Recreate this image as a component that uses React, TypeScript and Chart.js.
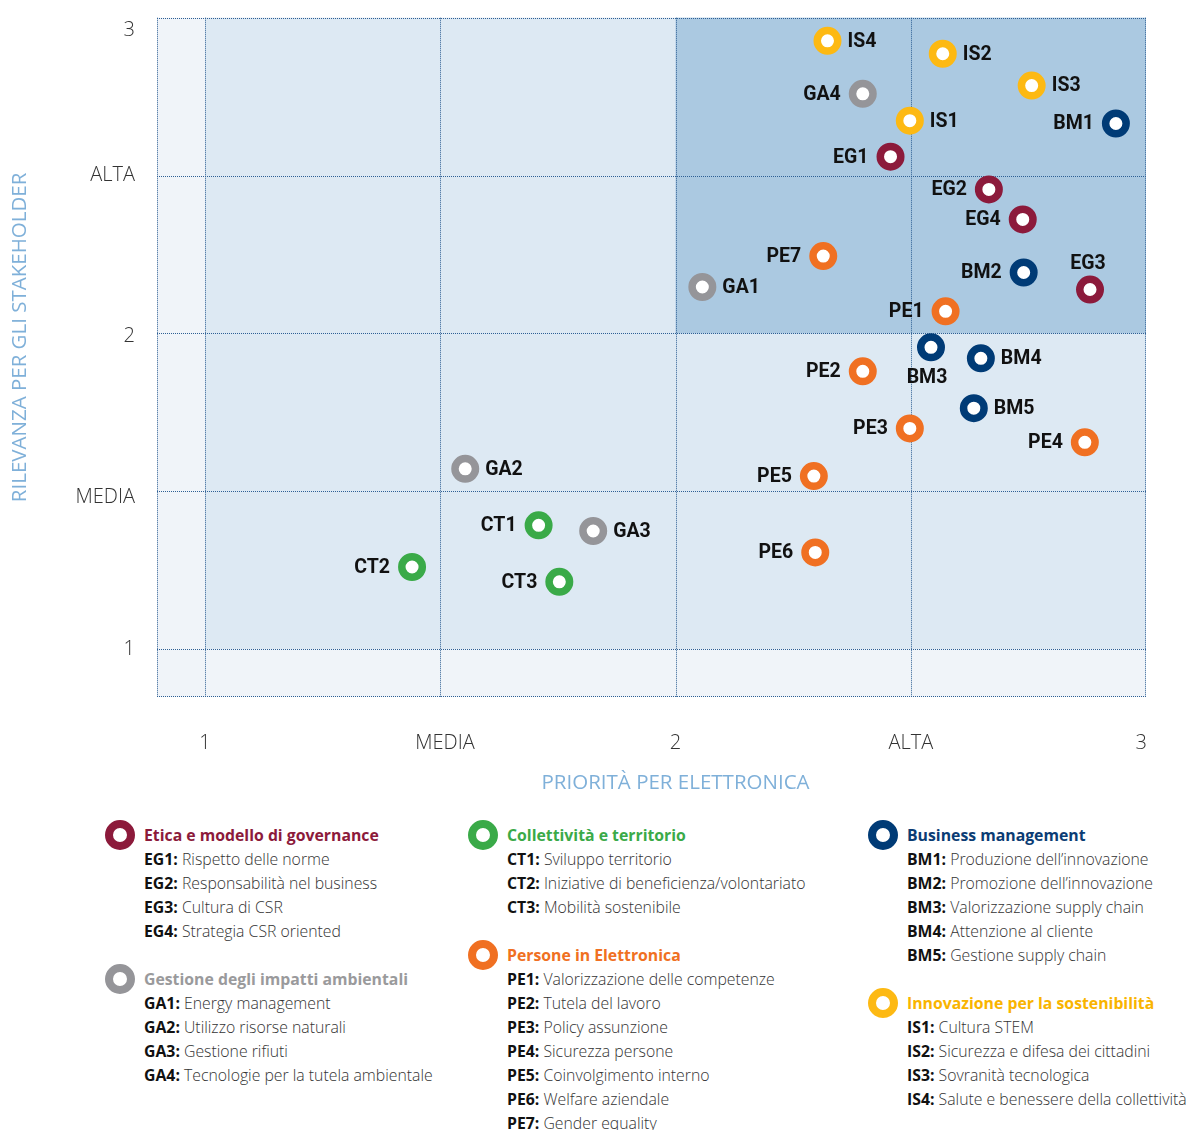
import React, { useEffect, useRef } from 'react';
import { Chart, registerables } from 'chart.js';

Chart.register(...registerables);

// ---- Axis ticks ----
const xTickValues = [1, 1.51, 2, 2.5, 2.99];
const xTickLabels = ['1', 'MEDIA', '2', 'ALTA', '3'];
const yTickValues = [1, 1.48, 1.99, 2.5, 2.96];
const yTickLabels = ['1', 'MEDIA', '2', 'ALTA', '3'];
const gridValues = [1, 1.5, 2, 2.5, 3];
const xTitle = 'PRIORITÀ PER ELETTRONICA';
const yTitle = 'RILEVANZA PER GLI STAKEHOLDER';

// ---- Series data ----
const egCodes = ['EG1', 'EG2', 'EG3', 'EG4'];
const egX = [2.457, 2.666, 2.881, 2.738];
const egY = [2.56, 2.456, 2.139, 2.361];
const egDesc = ['Rispetto delle norme', 'Responsabilità nel business', 'Cultura di CSR', 'Strategia CSR oriented'];

const gaCodes = ['GA1', 'GA2', 'GA3', 'GA4'];
const gaX = [2.057, 1.553, 1.825, 2.398];
const gaY = [2.147, 1.571, 1.374, 2.759];
const gaDesc = ['Energy management', 'Utilizzo risorse naturali', 'Gestione rifiuti', 'Tecnologie per la tutela ambientale'];

const ctCodes = ['CT1', 'CT2', 'CT3'];
const ctX = [1.709, 1.44, 1.753];
const ctY = [1.392, 1.26, 1.213];
const ctDesc = ['Sviluppo territorio', 'Iniziative di beneficienza/volontariato', 'Mobilità sostenibile'];

const peCodes = ['PE1', 'PE2', 'PE3', 'PE4', 'PE5', 'PE6', 'PE7'];
const peX = [2.574, 2.398, 2.498, 2.87, 2.294, 2.297, 2.314];
const peY = [2.07, 1.88, 1.699, 1.655, 1.548, 1.306, 2.245];
const peDesc = ['Valorizzazione delle competenze', 'Tutela del lavoro', 'Policy assunzione', 'Sicurezza persone', 'Coinvolgimento interno', 'Welfare aziendale', 'Gender equality'];

const bmCodes = ['BM1', 'BM2', 'BM3', 'BM4', 'BM5'];
const bmX = [2.936, 2.74, 2.543, 2.649, 2.634];
const bmY = [2.665, 2.193, 1.956, 1.921, 1.763];
const bmDesc = ['Produzione dell’innovazione', 'Promozione dell’innovazione', 'Valorizzazione supply chain', 'Attenzione al cliente', 'Gestione supply chain'];

const isCodes = ['IS1', 'IS2', 'IS3', 'IS4'];
const isX = [2.498, 2.568, 2.757, 2.323];
const isY = [2.674, 2.886, 2.785, 2.927];
const isDesc = ['Cultura STEM', 'Sicurezza e difesa dei cittadini', 'Sovranità tecnologica', 'Salute e benessere della collettività'];

// label placement around each point
const labelSide: Record<string, string> = {
  IS4: 'right', IS2: 'right', IS3: 'right', IS1: 'right',
  GA4: 'left', GA1: 'right', GA2: 'right', GA3: 'right',
  BM1: 'left', BM2: 'left', BM3: 'below', BM4: 'right', BM5: 'right',
  EG1: 'left', EG2: 'left', EG3: 'above', EG4: 'left',
  PE1: 'left', PE2: 'left', PE3: 'left', PE4: 'left', PE5: 'left', PE6: 'left', PE7: 'left',
  CT1: 'left', CT2: 'left', CT3: 'left',
};

const categories = [
  { name: 'Etica e modello di governance', color: '#8c1a3b', text: '#8c1a3b', codes: egCodes, x: egX, y: egY, desc: egDesc },
  { name: 'Gestione degli impatti ambientali', color: '#959599', text: '#9a9a9c', codes: gaCodes, x: gaX, y: gaY, desc: gaDesc },
  { name: 'Collettività e territorio', color: '#3aaa48', text: '#3aaa48', codes: ctCodes, x: ctX, y: ctY, desc: ctDesc },
  { name: 'Persone in Elettronica', color: '#f07022', text: '#f07022', codes: peCodes, x: peX, y: peY, desc: peDesc },
  { name: 'Business management', color: '#003b76', text: '#0b3c74', codes: bmCodes, x: bmX, y: bmY, desc: bmDesc },
  { name: 'Innovazione per la sostenibilità', color: '#fdb913', text: '#f9b400', codes: isCodes, x: isX, y: isY, desc: isDesc },
];

// legend placement: [category index, left, top]
const legendLayout: [number, number, number][] = [
  [0, 105, 823], [1, 105, 967],
  [2, 468, 823], [3, 468, 943],
  [4, 868, 823], [5, 868, 991],
];

const bgPlugin = {
  id: 'bgGrid',
  beforeDatasetsDraw(chart: any) {
    const { ctx, chartArea, scales } = chart;
    const { left, right, top, bottom } = chartArea;
    const x = scales.x, y = scales.y;
    ctx.save();
    ctx.fillStyle = '#f0f4f9';
    ctx.fillRect(left, top, right - left, bottom - top);
    const x1 = x.getPixelForValue(1), x2 = x.getPixelForValue(2), x3 = x.getPixelForValue(3);
    const y1 = y.getPixelForValue(1), y2 = y.getPixelForValue(2), y3 = y.getPixelForValue(3);
    ctx.fillStyle = '#dde9f3';
    ctx.fillRect(x1, y3, x3 - x1, y1 - y3);
    ctx.fillStyle = '#abc9e1';
    ctx.fillRect(x2, y3, x3 - x2, y2 - y3);
    ctx.strokeStyle = '#2e5f94';
    ctx.lineWidth = 1;
    ctx.setLineDash([1, 1]);
    const vx = [left, ...gridValues.map((v) => x.getPixelForValue(v))];
    const hy = [bottom, ...gridValues.map((v) => y.getPixelForValue(v))];
    vx.forEach((px) => {
      const p = Math.min(Math.round(px), Math.round(right) - 1) + 0.5;
      ctx.beginPath();
      ctx.moveTo(p, top);
      ctx.lineTo(p, bottom);
      ctx.stroke();
    });
    hy.forEach((py) => {
      const p = Math.min(Math.round(py), Math.round(bottom) - 1) + 0.5;
      ctx.beginPath();
      ctx.moveTo(left, p);
      ctx.lineTo(right, p);
      ctx.stroke();
    });
    ctx.restore();
  },
  afterDraw(chart: any) {
    const { ctx, scales } = chart;
    const cx = scales.x.getPixelForValue(2);
    const cy = scales.y.getPixelForValue(2);
    ctx.save();
    ctx.fillStyle = '#7fb0d9';
    ctx.font = '500 20.5px "Open Sans"';
    ctx.textAlign = 'center';
    ctx.textBaseline = 'middle';
    ctx.fillText(xTitle, cx, 783);
    ctx.translate(20, cy + 4);
    ctx.rotate(-Math.PI / 2);
    ctx.fillText(yTitle, 0, 0);
    ctx.restore();
  },
};

const labelPlugin = {
  id: 'pointLabels',
  afterDatasetsDraw(chart: any) {
    const { ctx } = chart;
    ctx.save();
    ctx.font = 'bold 19.5px Roboto';
    ctx.fillStyle = '#111111';
    ctx.textBaseline = 'middle';
    chart.data.datasets.forEach((ds: any, di: number) => {
      const meta = chart.getDatasetMeta(di);
      meta.data.forEach((pt: any, i: number) => {
        const code = ds.codes[i];
        const side = labelSide[code] || 'right';
        let tx = pt.x, ty = pt.y + 1;
        if (side === 'left') { ctx.textAlign = 'right'; tx = pt.x - 22; }
        else if (side === 'right') { ctx.textAlign = 'left'; tx = pt.x + 20; }
        else if (side === 'below') { ctx.textAlign = 'center'; tx = pt.x - 4; ty = pt.y + 31; }
        else { ctx.textAlign = 'center'; tx = pt.x - 2; ty = pt.y - 25; }
        ctx.fillText(code, tx, ty);
      });
    });
    ctx.restore();
  },
};

function MatrixChart() {
  const ref = useRef<HTMLCanvasElement | null>(null);
  useEffect(() => {
    if (!ref.current) return;
    const tickFont = { family: 'Open Sans', size: 20, weight: 300 as any };
    const chart = new Chart(ref.current, {
      type: 'scatter',
      data: {
        datasets: categories.map((c) => ({
          label: c.name,
          codes: c.codes,
          data: c.x.map((xv, i) => ({ x: xv, y: c.y[i] })),
          pointRadius: 10.25,
          pointHoverRadius: 10.25,
          pointBackgroundColor: '#ffffff',
          pointBorderColor: c.color,
          pointBorderWidth: 7.5,
          pointHoverBorderWidth: 7.5,
        })) as any,
      },
      options: {
        animation: false,
        responsive: false,
        maintainAspectRatio: false,
        events: [],
        layout: { padding: { top: 17, right: 40, bottom: 0, left: 0 } },
        plugins: { legend: { display: false }, tooltip: { enabled: false } },
        scales: {
          x: {
            type: 'linear',
            position: 'bottom',
            min: 1 - 48 / 470,
            max: 3,
            grid: { display: false, drawTicks: false },
            border: { display: false },
            afterBuildTicks: (s: any) => { s.ticks = xTickValues.map((v) => ({ value: v })); },
            afterFit: (s: any) => { s.height = 103; s.paddingLeft = 0; s.paddingRight = 0; },
            ticks: {
              autoSkip: false,
              maxRotation: 0,
              padding: 34,
              color: '#333333',
              font: tickFont,
              callback: (_v: any, i: number) => xTickLabels[i],
            },
          },
          y: {
            type: 'linear',
            position: 'left',
            min: 1 - 48 / 316,
            max: 3,
            grid: { display: false, drawTicks: false },
            border: { display: false },
            afterBuildTicks: (s: any) => { s.ticks = yTickValues.map((v) => ({ value: v })); },
            afterFit: (s: any) => { s.width = 157; s.paddingTop = 0; s.paddingBottom = 0; },
            ticks: {
              autoSkip: false,
              padding: 22,
              color: '#333333',
              font: tickFont,
              callback: (_v: any, i: number) => yTickLabels[i],
            },
          },
        } as any,
      },
      plugins: [bgPlugin, labelPlugin],
    });
    return () => chart.destroy();
  }, []);
  return <canvas ref={ref} width={1186} height={800} style={{ position: 'absolute', left: 0, top: 0, width: 1186, height: 800 }} />;
}

function Legend() {
  return (
    <>
      {legendLayout.map(([ci, left, top]) => {
        const c = categories[ci];
        return (
          <div key={c.name} style={{ position: 'absolute', left, top, fontFamily: '"Open Sans", sans-serif', fontSize: 15.8, lineHeight: '24px' }}>
            <div style={{ position: 'absolute', left: 0, top: -3, width: 14, height: 14, border: `8px solid ${c.color}`, borderRadius: '50%', boxSizing: 'content-box' }} />
            <div style={{ position: 'absolute', left: 39, top: 0, whiteSpace: 'nowrap' }}>
              <div style={{ color: c.text, fontWeight: 700 }}>{c.name}</div>
              {c.codes.map((code, i) => (
                <div key={code} style={{ color: '#333333', fontWeight: 300 }}>
                  <span style={{ fontWeight: 700, color: '#111111' }}>{code}:</span> {c.desc[i]}
                </div>
              ))}
            </div>
          </div>
        );
      })}
    </>
  );
}

export default function App() {
  return (
    <div style={{ position: 'absolute', left: 0, top: 0, width: 1186, height: 1130, overflow: 'hidden', background: '#ffffff' }}>
      <MatrixChart />
      <Legend />
    </div>
  );
}
